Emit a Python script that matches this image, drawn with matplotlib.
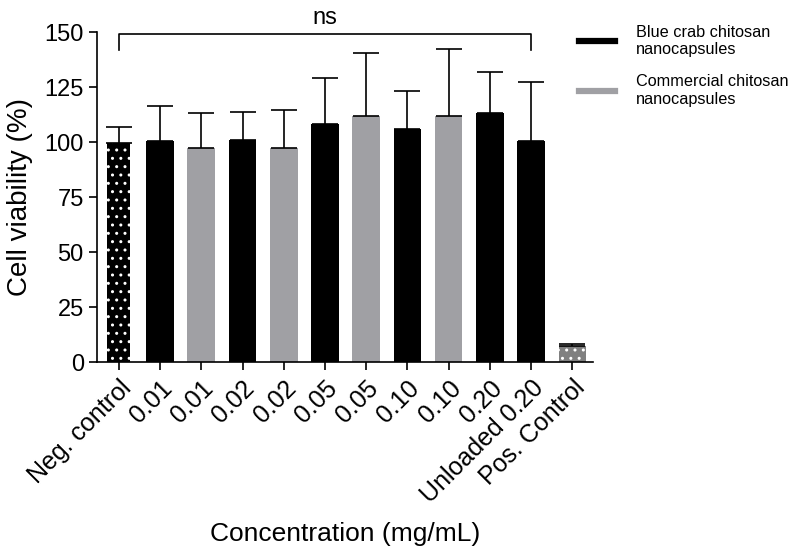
import numpy as np
import matplotlib.pyplot as plt
from matplotlib.lines import Line2D

plt.rcParams['font.family'] = ['Liberation Sans', 'DejaVu Sans']
plt.rcParams['hatch.linewidth'] = 1.0

# cell viability data (mean and upper SD) per treatment
labels = ['Neg. control', '0.01', '0.01', '0.02', '0.02', '0.05', '0.05',
          '0.10', '0.10', '0.20', 'Unloaded 0.20', 'Pos. Control']
groups = ['neg', 'blue', 'comm', 'blue', 'comm', 'blue', 'comm',
          'blue', 'comm', 'blue', 'blue', 'pos']
viability = [99.4, 100.3, 97.4, 100.9, 97.4, 108.2, 111.7, 106.1, 111.7, 113.4, 100.6, 7.4]
sd = [7.4, 16.1, 16.0, 12.9, 17.2, 20.8, 28.9, 17.3, 30.6, 18.6, 26.6, 0.6]

colors = {'neg': 'black', 'blue': 'black', 'comm': '#a0a0a4', 'pos': '#808080'}

fig = plt.figure(figsize=(7.97, 5.48), dpi=100)
ax = fig.add_axes([0.1217, 0.3394, 0.6223, 0.6022])

x = np.arange(len(labels))
for i, g in enumerate(groups):
    w = 0.56 if g == 'neg' else 0.67
    if g in ('neg', 'pos'):
        # dotted fill for the controls
        ax.bar(x[i], viability[i], width=w, color=colors[g], edgecolor='white',
               linewidth=0, hatch='..', zorder=2)
    else:
        ax.bar(x[i], viability[i], width=w, color=colors[g], linewidth=0, zorder=2)

ax.errorbar(x, viability, yerr=[np.zeros(len(sd)), sd], fmt='none', ecolor='black',
            elinewidth=1.2, capsize=9.5, capthick=1.2, zorder=3)

# significance bracket
ax.plot([0, 0, 10, 10], [142, 149, 149, 142], color='black', lw=1.2, clip_on=False)
ax.text(5, 151.5, 'ns', ha='center', va='bottom', fontsize=17)

ax.set_xlim(-0.53, 11.5)
ax.set_ylim(0, 150)
ax.set_yticks([0, 25, 50, 75, 100, 125, 150])
ax.set_xticks(x)
ax.set_xticklabels(labels, rotation=45, ha='right', rotation_mode='anchor')
ax.tick_params(axis='both', labelsize=17, length=6, width=1.2, direction='out')
ax.tick_params(axis='x', labelsize=18, pad=4)
for s in ['top', 'right']:
    ax.spines[s].set_visible(False)
for s in ['left', 'bottom']:
    ax.spines[s].set_linewidth(1.2)

ax.set_ylabel('Cell viability (%)', fontsize=20, labelpad=8)
ax.set_xlabel('Concentration (mg/mL)', fontsize=19, labelpad=10)

handles = [Line2D([0], [0], color='black', lw=4.5),
           Line2D([0], [0], color='#a0a0a4', lw=4.5)]
fig.legend(handles, ['Blue crab chitosan\nnanocapsules', 'Commercial chitosan\nnanocapsules'],
           loc='upper left', bbox_to_anchor=(0.727, 0.955), frameon=False, fontsize=11.7,
           handlelength=2.2, handletextpad=1.3, labelspacing=1.05, borderpad=0,
           borderaxespad=0)

fig.savefig('out.png', dpi=100)
